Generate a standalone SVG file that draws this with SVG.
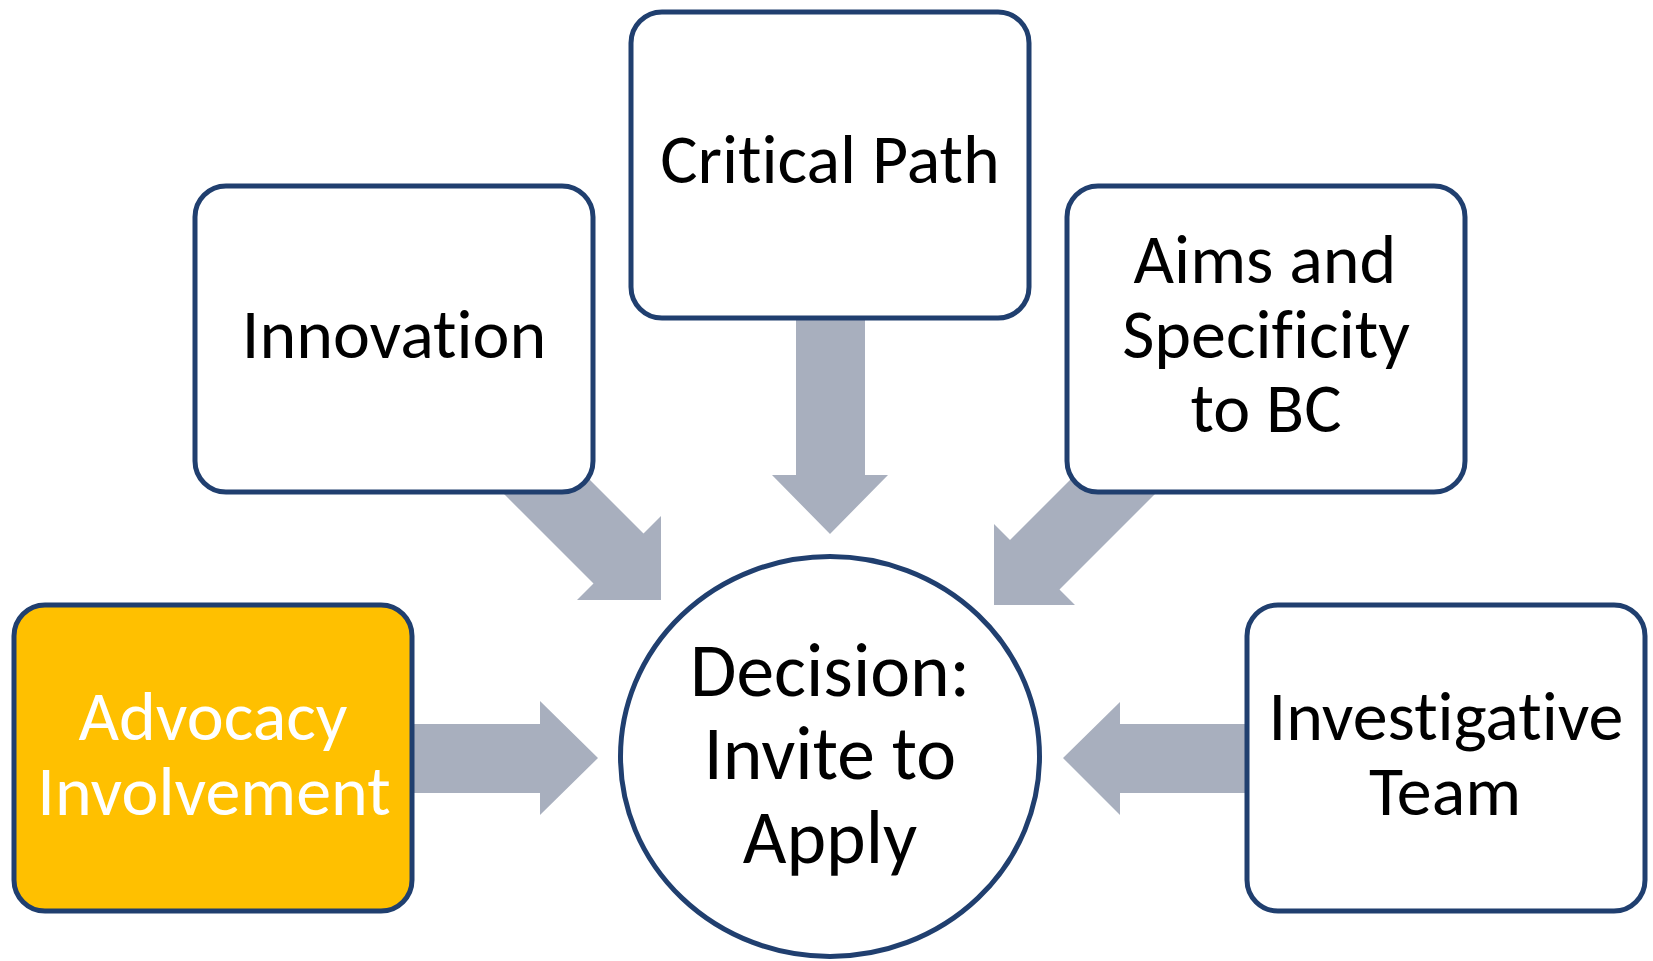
<svg xmlns="http://www.w3.org/2000/svg" width="1653" height="961" viewBox="0 0 1653 961">
<style>
.box{fill:#FFFFFF;stroke:#203F6F;stroke-width:5}
.hl{fill:#FFC000}
.arr{fill:#A8AFBE}
.t{font-family:"Carlito","Liberation Sans",sans-serif;font-size:70px;fill:#000000;text-anchor:middle;font-variant-ligatures:none;font-feature-settings:"liga" 0}
.tw{fill:#FFFFFF}
.tc{font-size:75.5px}
</style>
<rect width="1653" height="961" fill="#FFFFFF"/>
<g id="connectors">
<polygon class="arr" points="470,460 520,410 643.5,533.5 661,516 661,600 577,600 593.5,583.5"/>
<polygon class="arr" points="796,300 865,300 865,475 888,475 830,534 772,475 796,475"/>
<polygon class="arr" points="1130,420 1179.5,469.5 1059.5,589.5 1075,605 994,605 994,524 1010,540"/>
<polygon class="arr" points="400,724 540,724 540,701 598,758 540,815 540,793 400,793"/>
<polygon class="arr" points="1260,724 1120,724 1120,702 1063,758 1120,815 1120,793 1260,793"/>
</g>
<g id="node-innovation">
<rect class="box" x="195" y="186" width="398" height="306" rx="31"/>
<text class="t" x="394" y="358">Innovation</text>
</g>
<g id="node-critical-path">
<rect class="box" x="631" y="12" width="398" height="306" rx="31"/>
<text class="t" x="830" y="183">Critical Path</text>
</g>
<g id="node-aims">
<rect class="box" x="1067" y="186" width="398" height="306" rx="31"/>
<text class="t" x="1265" y="283">Aims and</text>
<text class="t" x="1266" y="358">Specificity</text>
<text class="t" x="1266" y="432">to BC</text>
</g>
<g id="node-advocacy">
<rect class="box hl" x="14" y="605" width="398" height="306" rx="31"/>
<text class="t tw" x="213" y="740">Advocacy</text>
<text class="t tw" x="214" y="815">Involvement</text>
</g>
<g id="node-investigative">
<rect class="box" x="1247" y="605" width="398" height="306" rx="31"/>
<text class="t" x="1446" y="740">Investigative</text>
<text class="t" x="1445" y="815">Team</text>
</g>
<g id="node-decision">
<ellipse class="box" cx="830" cy="756.5" rx="209.5" ry="200"/>
<text class="t tc" x="830" y="696">Decision:</text>
<text class="t tc" x="830" y="779">Invite to</text>
<text class="t tc" x="830" y="863">Apply</text>
</g>
</svg>
